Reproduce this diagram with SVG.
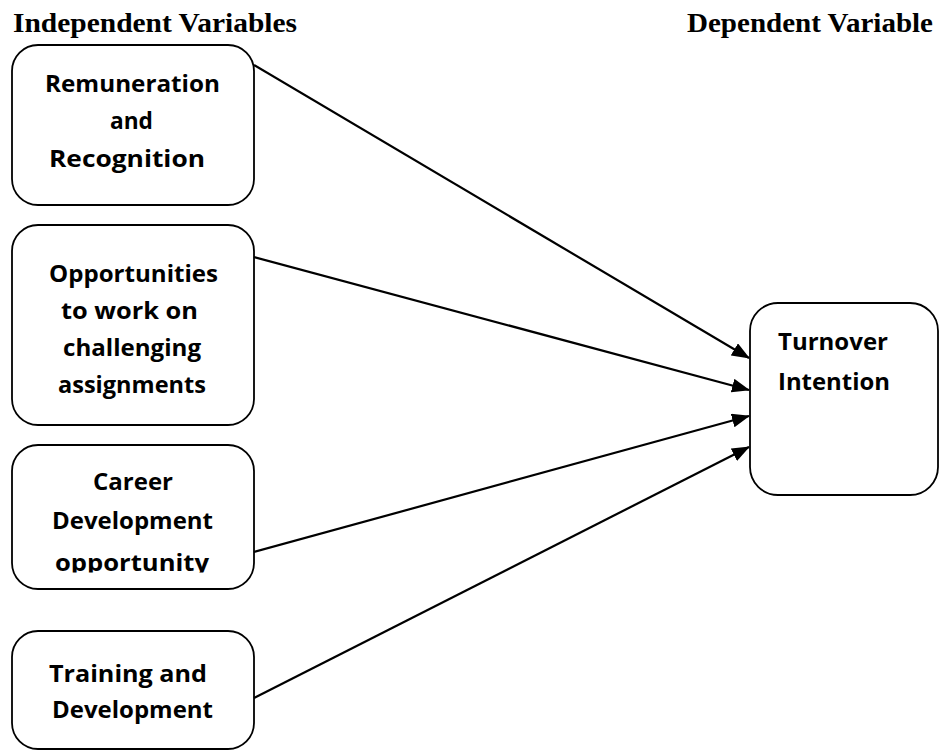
<svg xmlns="http://www.w3.org/2000/svg" width="940" height="751" viewBox="0 0 940 751">
<style>
.hdr{font-family:"Liberation Serif","Times New Roman",serif;font-weight:bold;font-size:27px;fill:#000}
.box{fill:#fff;stroke:#000;stroke-width:1.8}
.lbl{font-family:"Open Sans","Liberation Sans",sans-serif;font-weight:bold;font-size:23px;fill:#000}
.conn line{stroke:#000;stroke-width:2.2}
</style>
<defs>
<marker id="ah" markerWidth="18" markerHeight="14" refX="17" refY="7" orient="auto" markerUnits="userSpaceOnUse">
<path d="M0,0 L18,7 L0,14 Z" fill="#000"/>
</marker>
<clipPath id="c3"><rect x="0" y="440" width="300" height="132.5"/></clipPath>
</defs>
<rect width="940" height="751" fill="#fff"/>
<text class="hdr" x="13" y="32" textLength="284" lengthAdjust="spacingAndGlyphs">Independent Variables</text>
<text class="hdr" x="687" y="32" textLength="246" lengthAdjust="spacingAndGlyphs">Dependent Variable</text>
<g id="n1">
<rect class="box" x="12" y="45" width="242" height="160" rx="26"/>
<text class="lbl" x="45" y="92" textLength="175" lengthAdjust="spacingAndGlyphs">Remuneration</text>
<text class="lbl" x="110" y="129" textLength="43" lengthAdjust="spacingAndGlyphs">and</text>
<text class="lbl" x="49" y="167" textLength="156" lengthAdjust="spacingAndGlyphs">Recognition</text>
</g>
<g id="n2">
<rect class="box" x="12" y="225" width="242" height="200" rx="26"/>
<text class="lbl" x="49" y="282" textLength="169" lengthAdjust="spacingAndGlyphs">Opportunities</text>
<text class="lbl" x="61" y="319" textLength="137" lengthAdjust="spacingAndGlyphs">to work on</text>
<text class="lbl" x="63" y="356" textLength="138" lengthAdjust="spacingAndGlyphs">challenging</text>
<text class="lbl" x="58" y="393" textLength="148" lengthAdjust="spacingAndGlyphs">assignments</text>
</g>
<g id="n3">
<rect class="box" x="12" y="445" width="242" height="144" rx="26"/>
<text class="lbl" x="93" y="490" textLength="80" lengthAdjust="spacingAndGlyphs">Career</text>
<text class="lbl" x="52" y="529" textLength="161" lengthAdjust="spacingAndGlyphs">Development</text>
<text class="lbl" x="55" y="571" textLength="154" lengthAdjust="spacingAndGlyphs" clip-path="url(#c3)">opportunity</text>
</g>
<g id="n4">
<rect class="box" x="12" y="631" width="242" height="118" rx="26"/>
<text class="lbl" x="49" y="682" textLength="158" lengthAdjust="spacingAndGlyphs">Training and</text>
<text class="lbl" x="52" y="718" textLength="161" lengthAdjust="spacingAndGlyphs">Development</text>
</g>
<g id="n5">
<rect class="box" x="750" y="303" width="188" height="192" rx="28"/>
<text class="lbl" x="778" y="350" textLength="110" lengthAdjust="spacingAndGlyphs">Turnover</text>
<text class="lbl" x="778" y="390" textLength="112" lengthAdjust="spacingAndGlyphs">Intention</text>
</g>
<g id="connectors" class="conn">
<line x1="254" y1="65" x2="749" y2="358" marker-end="url(#ah)"/>
<line x1="254" y1="257" x2="749" y2="390" marker-end="url(#ah)"/>
<line x1="254" y1="552" x2="749" y2="416" marker-end="url(#ah)"/>
<line x1="254" y1="698" x2="749" y2="447" marker-end="url(#ah)"/>
</g>
</svg>
